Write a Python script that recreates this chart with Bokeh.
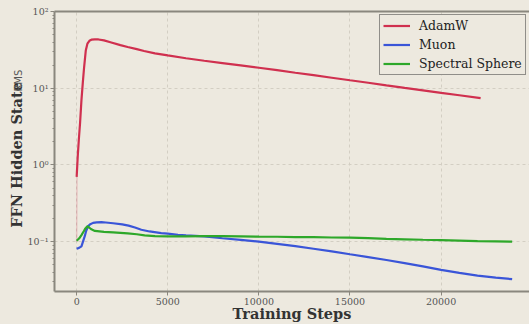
import math
from bokeh.plotting import figure
from bokeh.layouts import row
from bokeh.models import (Range1d, FixedTicker, LinearAxis, Label, Legend, LegendItem)
from bokeh.embed import file_html
from bokeh.resources import INLINE

# ---------------- data ----------------
adamw_steps = [0, 60, 117, 190, 263, 340, 410, 500, 590, 700, 810, 1000, 1200, 1500,
               1900, 2400, 2800, 3300, 3700, 4300, 5000, 6000, 7000, 8000, 9000, 10000,
               11000, 12000, 13000, 14000, 15000, 16000, 17000, 18000, 19000, 20000,
               21000, 22170]
adamw_vals = [0.7, 1.3, 2.1, 3.6, 7.0, 12.0, 18.9, 31.0, 38.0, 41.5, 42.9, 43.3, 43.2, 42.0,
              39.5, 36.5, 34.5, 32.3, 30.6, 28.5, 26.8, 24.6, 22.8, 21.3, 19.9, 18.5,
              17.2, 15.9, 14.8, 13.7, 12.7, 11.8, 10.9, 10.1, 9.4, 8.7,
              8.1, 7.45]
adamw_raw_steps = [0, 20]
adamw_raw_vals = [0.1, 0.7]

muon_steps = [0, 130, 263, 445, 520, 630, 750, 900, 1100, 1360, 1600, 2000, 2500, 2850,
              3200, 3550, 4000, 4640, 5000, 5560, 6000, 7000, 8000, 9000, 10000, 11000,
              12000, 13000, 14000, 15000, 16000, 17000, 18000, 19000, 20000, 21000,
              22000, 23000, 23900]
muon_vals = [0.081, 0.083, 0.087, 0.118, 0.138, 0.160, 0.169, 0.176, 0.179, 0.180, 0.178,
             0.174, 0.168, 0.162, 0.153, 0.143, 0.136, 0.1295, 0.1275, 0.123, 0.121,
             0.117, 0.111, 0.1055, 0.100, 0.0935, 0.0875, 0.081, 0.0748, 0.0686, 0.063,
             0.0578, 0.0527, 0.0476, 0.0429, 0.0392, 0.0362, 0.0340, 0.0325]

sphere_steps = [0, 130, 263, 400, 480, 590, 700, 810, 1000, 1500, 2000, 2800, 3300, 3730,
                4300, 5000, 6000, 7000, 8000, 9000, 10000, 11000, 12000, 13000, 14000,
                15000, 16000, 17000, 18000, 19000, 20000, 21000, 22000, 23000, 23900]
sphere_vals = [0.103, 0.110, 0.122, 0.138, 0.149, 0.159, 0.152, 0.145, 0.138, 0.134, 0.132,
               0.1285, 0.125, 0.121, 0.118, 0.117, 0.117, 0.118, 0.118, 0.1175, 0.1165,
               0.116, 0.115, 0.1145, 0.1135, 0.1127, 0.111, 0.109, 0.1075, 0.106, 0.105,
               0.1035, 0.102, 0.101, 0.100]

series_names = ["AdamW", "Muon", "Spectral Sphere"]
series_colors = ["#d0304f", "#3a55d8", "#2ea82a"]

x_ticks = [0, 5000, 10000, 15000, 20000]
y_ticks = [0.1, 1, 10, 100]
y_tick_labels = ["10\u207b\u00b9", "10\u2070", "10\u00b9", "10\u00b2"]

x_label = "Training Steps"
y_label = "FFN Hidden State"
y_label_sub = "RMS"

# ---------------- style ----------------
BG = "#ede9df"
SPINE = "#8a877e"
GRID = "#d3cec3"
TICKTXT = "#555555"
SERIF = "DejaVu Serif"
W, H = 529, 324
LBL_W = 24

p = figure(width=W - LBL_W, height=H, output_backend="svg", toolbar_location=None,
           y_axis_type="log",
           x_range=Range1d(-1216, 24852), y_range=Range1d(0.02244, 100),
           min_border_left=53 - LBL_W, min_border_right=0, min_border_top=11,
           min_border_bottom=32, styles={"background-color": BG})
p.background_fill_color = BG
p.border_fill_color = BG
p.outline_line_color = None

minor = [m * 10.0 ** k for k in range(-2, 2) for m in range(2, 10)]
p.yaxis.ticker = FixedTicker(ticks=y_ticks, minor_ticks=minor)
p.yaxis.major_label_overrides = {t: lab for t, lab in zip(y_ticks, y_tick_labels)}
p.xaxis.ticker = FixedTicker(ticks=x_ticks)

for ax in (p.xaxis[0], p.yaxis[0]):
    ax.axis_line_color = SPINE
    ax.axis_line_width = 2
    ax.major_tick_line_color = SPINE
    ax.major_tick_in = 0
    ax.major_tick_out = 4
    ax.minor_tick_line_color = SPINE
    ax.minor_tick_in = 0
    ax.minor_tick_out = 2
    ax.major_label_text_font = SERIF
    ax.major_label_text_font_size = "9.5px"
    ax.major_label_text_color = TICKTXT
    ax.major_label_standoff = 2

p.xaxis.axis_label = x_label
p.xaxis.axis_label_text_font = SERIF
p.xaxis.axis_label_text_font_style = "bold"
p.xaxis.axis_label_text_font_size = "14.5px"
p.xaxis.axis_label_text_color = "#333333"
p.xaxis.axis_label_standoff = -3

top = LinearAxis(ticker=FixedTicker(ticks=[]), axis_line_color=SPINE, axis_line_width=2,
                 major_tick_out=0, major_tick_in=0, minor_tick_out=0, minor_tick_in=0,
                 major_label_text_font_size="0px", major_label_standoff=0)
p.add_layout(top, "above")

p.xgrid.grid_line_color = GRID
p.xgrid.grid_line_dash = "3 3"
p.ygrid.grid_line_color = GRID
p.ygrid.grid_line_dash = "3 3"

p.line(adamw_raw_steps, adamw_raw_vals, line_color=series_colors[0], line_alpha=0.2, line_width=1.5)
r1 = p.line(adamw_steps, adamw_vals, line_color=series_colors[0], line_width=2.2)
r2 = p.line(muon_steps, muon_vals, line_color=series_colors[1], line_width=2.2)
r3 = p.line(sphere_steps, sphere_vals, line_color=series_colors[2], line_width=2.2)

legend = Legend(items=[LegendItem(label=n, renderers=[r]) for n, r in zip(series_names, [r1, r2, r3])],
                location=(325, 216), margin=0, padding=3, spacing=4,
                glyph_width=27, glyph_height=15, label_height=15, label_standoff=9,
                label_text_font=SERIF, label_text_font_size="12.5px", label_text_color="#222222",
                border_line_color="#333333", border_line_width=1,
                background_fill_color=BG, background_fill_alpha=1.0)
p.add_layout(legend, "center")

# narrow strip on the left that carries the vertical axis title
lf = figure(width=LBL_W, height=H, output_backend="svg", toolbar_location=None,
            x_range=Range1d(0, LBL_W), y_range=Range1d(0, H),
            min_border=0, x_axis_location=None, y_axis_location=None,
            styles={"background-color": BG})
lf.background_fill_color = BG
lf.border_fill_color = BG
lf.outline_line_color = None
lf.grid.visible = False
lf.add_layout(Label(x=15.5, y=H - 166, text=y_label, angle=math.pi / 2,
                    text_font=SERIF, text_font_style="bold", text_font_size="14.5px",
                    text_color="#333333", text_align="center", text_baseline="middle"))
lf.add_layout(Label(x=18, y=H - 80, text=y_label_sub, angle=math.pi / 2,
                    text_font="DejaVu Sans", text_font_size="10px",
                    text_color="#555555", text_align="center", text_baseline="middle"))

layout = row(lf, p, spacing=0, styles={"background-color": BG})
open("out.html", "w").write(file_html(layout, INLINE))
